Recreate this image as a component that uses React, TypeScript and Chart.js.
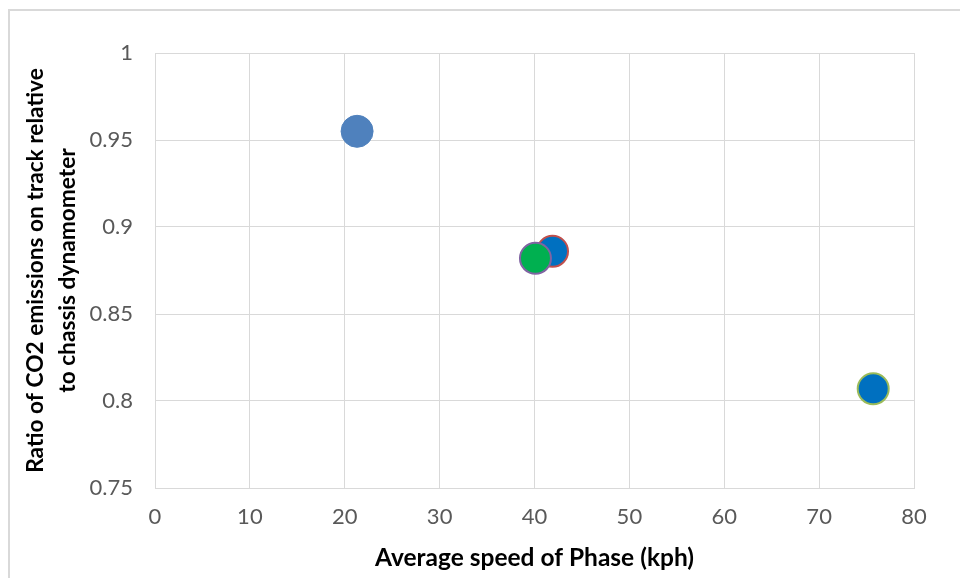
import React, { useEffect, useRef } from "react";
import { Chart, registerables } from "chart.js";

Chart.register(...registerables);

const xTitle = "Average speed of Phase (kph)";
const yTitle = ["Ratio of CO2 emissions on track relative", "to chassis dynamometer"];

// each point: [average speed (kph), CO2 ratio]
const point1X = [21.3];
const point1Y = [0.955];
const point2X = [41.9];
const point2Y = [0.886];
const point3X = [40.1];
const point3Y = [0.882];
const point4X = [75.7];
const point4Y = [0.807];

const xMin = 0, xMax = 80, xStep = 10;
const yMin = 0.75, yMax = 1, yStep = 0.05;

const FONT = "Lato, 'Open Sans', sans-serif";

const toPts = (xs: number[], ys: number[]) => xs.map((x, i) => ({ x, y: ys[i] }));

const outerBorder = {
  id: "outerBorder",
  beforeDraw(chart: any) {
    const ctx = chart.ctx;
    ctx.save();
    ctx.fillStyle = "#ffffff";
    ctx.fillRect(0, 0, chart.width, chart.height);
    ctx.strokeStyle = "#d9d9d9";
    ctx.lineWidth = 2;
    ctx.strokeRect(9, 10, chart.width + 20, chart.height + 20);
    ctx.restore();
  },
};

export default function App() {
  const ref = useRef<HTMLCanvasElement>(null);
  useEffect(() => {
    if (!ref.current) return;
    const chart = new Chart(ref.current, {
      type: "scatter",
      data: {
        datasets: [
          {
            label: "Phase A",
            data: toPts(point1X, point1Y),
            backgroundColor: "#4F81BD",
            borderColor: "#4F81BD",
            borderWidth: 1,
            pointRadius: 16,
            pointHoverRadius: 16,
          },
          {
            label: "Phase C",
            data: toPts(point3X, point3Y),
            backgroundColor: "#00B050",
            borderColor: "#8064A2",
            borderWidth: 2,
            pointRadius: 15.5,
            pointHoverRadius: 15.5,
          },
          {
            label: "Phase B",
            data: toPts(point2X, point2Y),
            backgroundColor: "#0070C0",
            borderColor: "#C0504D",
            borderWidth: 2,
            pointRadius: 15.5,
            pointHoverRadius: 15.5,
          },
          {
            label: "Phase D",
            data: toPts(point4X, point4Y),
            backgroundColor: "#0070C0",
            borderColor: "#9BBB59",
            borderWidth: 2,
            pointRadius: 15.5,
            pointHoverRadius: 15.5,
          },
        ],
      },
      options: {
        animation: false,
        responsive: false,
        maintainAspectRatio: false,
        layout: { padding: { top: 53, right: 46, left: 0, bottom: 0 } },
        plugins: {
          legend: { display: false },
          tooltip: { enabled: false },
        },
        scales: {
          x: {
            type: "linear",
            min: xMin,
            max: xMax,
            afterFit: (s: any) => { s.height = 90; },
            ticks: {
              stepSize: xStep,
              color: "#595959",
              font: { family: FONT, size: 22 },
              padding: 16,
            },
            grid: { color: "#d9d9d9", lineWidth: 1, drawTicks: false },
            border: { color: "#d9d9d9", width: 1 },
            title: {
              display: true,
              text: xTitle,
              color: "#000000",
              font: { family: FONT, size: 24.5, weight: "bold" },
              padding: { top: 4, bottom: 5 },
            },
          },
          y: {
            type: "linear",
            min: yMin,
            max: yMax,
            afterFit: (s: any) => { s.width = 155; },
            ticks: {
              stepSize: yStep,
              color: "#595959",
              font: { family: FONT, size: 22 },
              padding: 22,
              callback: (v: any) => String(Math.round(Number(v) * 100) / 100),
            },
            grid: { color: "#d9d9d9", lineWidth: 1, drawTicks: false },
            border: { color: "#d9d9d9", width: 1 },
            title: {
              display: true,
              text: yTitle,
              color: "#000000",
              font: { family: FONT, size: 22.7, weight: "bold", lineHeight: 1.41 },
              padding: { top: 20, bottom: 0 },
            },
          },
        },
      },
      plugins: [outerBorder],
    } as any);
    return () => chart.destroy();
  }, []);
  return (
    <div style={{ position: "fixed", left: 0, top: 0, width: 960, height: 578, background: "#fff" }}>
      <canvas ref={ref} width={960} height={578} style={{ display: "block" }} />
    </div>
  );
}
